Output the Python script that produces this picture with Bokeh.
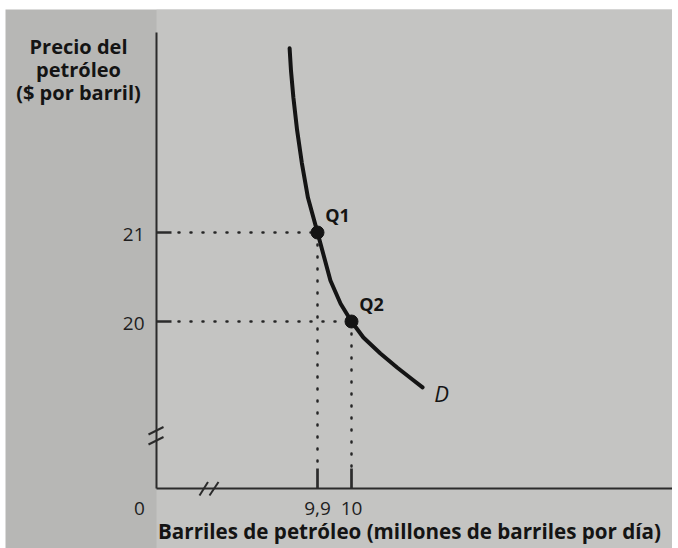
from bokeh.plotting import figure
from bokeh.models import Range1d
from bokeh.core.properties import value
from bokeh.embed import file_html
from bokeh.resources import INLINE

# ---- data ----
qty = [9.818, 9.822, 9.829, 9.840, 9.854, 9.872, 9.900, 9.938, 9.968,
       10.000, 10.035, 10.085, 10.135, 10.182, 10.209]
price = [23.07, 22.82, 22.52, 22.15, 21.78, 21.39, 21.00, 20.46, 20.20,
         20.00, 19.82, 19.64, 19.48, 19.34, 19.26]
point_names = ["Q1", "Q2"]
point_qty = [9.9, 10.0]
point_price = [21.0, 20.0]
x_ticks = [9.9, 10.0]
x_tick_labels = ["9,9", "10"]
y_ticks = [21, 20]
y_tick_labels = ["21", "20"]
y_title = ["Precio del", "petróleo", "($ por barril)"]
x_title = "Barriles de petróleo (millones de barriles por día)"
curve_name = "D"

# ---- layout helpers (screen pixel -> data), calibrated on the ticks ----
def X(px):
    return 9.9 + (px - 317) / 340.0

def Y(py):
    return 21 - (py - 232) / 89.0

SHIFT = 7 / 89.0   # text renders ~7px below the requested baseline

FONT = value("Open Sans")
INK = "#141414"
AX = "#2b2b2b"

p = figure(width=672, height=548, output_backend="svg", toolbar_location=None,
           x_range=Range1d(X(5), X(672)), y_range=Range1d(Y(548), Y(9)),
           x_axis_location=None, y_axis_location=None,
           min_border_left=5, min_border_top=9, min_border_right=0, min_border_bottom=0)
p.background_fill_color = "#b7b7b5"
p.border_fill_color = "white"
p.outline_line_color = None
p.grid.visible = False

ax_x, ax_y = X(156), Y(488)     # axis corner
top_y = Y(32)

# lighter page area right of the vertical axis
p.quad(left=[ax_x], right=[X(672)], bottom=[Y(548)], top=[Y(9)],
       fill_color="#c4c4c2", line_color=None)

# axes lines
p.segment(x0=[ax_x], y0=[ax_y], x1=[ax_x], y1=[top_y], line_color=AX, line_width=2)
p.segment(x0=[ax_x], y0=[ax_y], x1=[X(672)], y1=[ax_y], line_color=AX, line_width=2)

# ticks
p.segment(x0=[ax_x] * len(y_ticks), y0=y_ticks, x1=[X(171)] * len(y_ticks), y1=y_ticks,
          line_color=AX, line_width=2.7)
p.segment(x0=x_ticks, y0=[ax_y] * len(x_ticks), x1=x_ticks, y1=[Y(468)] * len(x_ticks),
          line_color=AX, line_width=2.7)

# tick labels
p.text(x=[X(144)] * len(y_ticks), y=[t - 9 / 89.0 + SHIFT for t in y_ticks],
       text=y_tick_labels, text_font=FONT, text_font_size="19px", text_color="#1e1e1e",
       text_align="right", text_baseline="alphabetic")
p.text(x=x_ticks, y=[Y(515) + SHIFT] * len(x_ticks), text=x_tick_labels,
       text_font=FONT, text_font_size="19px", text_color="#1e1e1e",
       text_align="center", text_baseline="alphabetic")
p.text(x=[X(139)], y=[Y(515) + SHIFT], text=["0"], text_font=FONT, text_font_size="19px",
       text_color="#1e1e1e", text_align="center", text_baseline="alphabetic")

# dotted guide lines
dots = dict(line_color="#262626", line_width=2.5, line_dash="1 11", line_cap="round")
for qx, py in zip(point_qty, point_price):
    p.segment(x0=[X(178)], y0=[py], x1=[qx], y1=[py], **dots)
    p.segment(x0=[qx], y0=[py], x1=[qx], y1=[Y(466)], **dots)

# demand curve
p.line(qty, price, line_color=INK, line_width=4, line_cap="round", line_join="round")
p.scatter(point_qty, point_price, size=13, color=INK)

# point names and curve name
p.text(x=[q + 20 / 340.0 for q in point_qty],
       y=[v + 11 / 89.0 + SHIFT for v in point_price],
       text=point_names, text_font=FONT, text_font_size="18px", text_font_style="bold",
       text_color=INK, text_align="center", text_baseline="alphabetic")
p.text(x=[qty[-1] + 19 / 340.0], y=[price[-1] - 13 / 89.0 + SHIFT], text=[curve_name],
       text_font=FONT, text_font_size="22px", text_font_style="italic",
       text_color=INK, text_align="center", text_baseline="alphabetic")

# axis titles
p.text(x=[X(78)] * 3, y=[Y(53) + SHIFT, Y(76) + SHIFT, Y(99) + SHIFT], text=y_title,
       text_font=FONT, text_font_size="20px", text_font_style="bold", text_color=INK,
       text_align="center", text_baseline="alphabetic")
p.text(x=[X(409)], y=[Y(537) + SHIFT], text=[x_title], text_font=FONT,
       text_font_size="20.6px", text_font_style="bold", text_color=INK,
       text_align="center", text_baseline="alphabetic")

# axis break marks
p.segment(x0=[X(148), X(148)], y0=[Y(434), Y(444)], x1=[X(163), X(163)],
          y1=[Y(426.5), Y(436.5)], line_color=AX, line_width=2)
p.segment(x0=[X(199), X(209)], y0=[Y(495), Y(495)], x1=[X(207.5), X(218)],
          y1=[Y(481.5), Y(481.5)], line_color=AX, line_width=2)

open("out.html", "w").write(file_html(p, INLINE))
